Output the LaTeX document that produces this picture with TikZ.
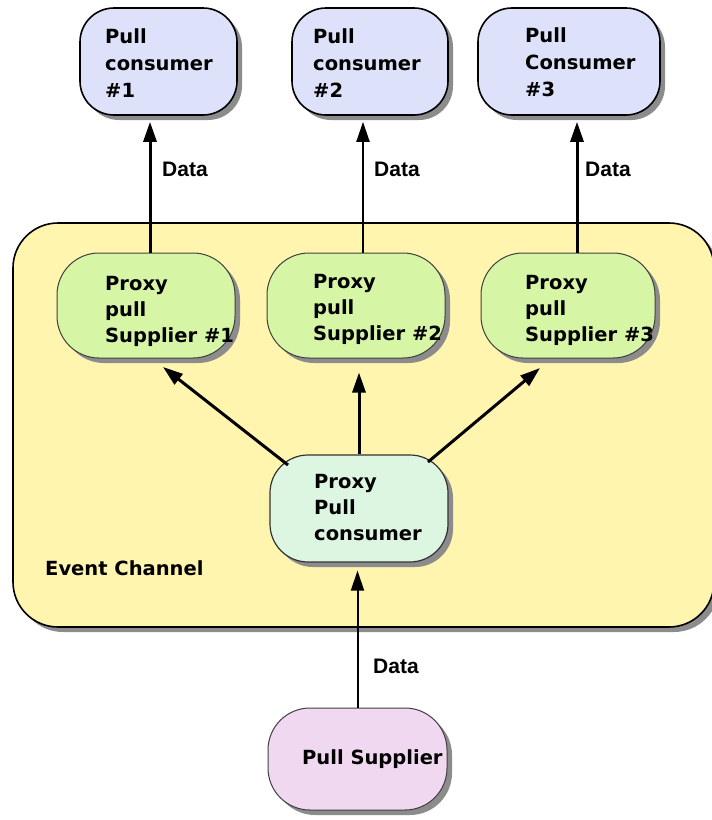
\documentclass[tikz,border=0pt]{standalone}
\usepackage{fontspec}
\setmainfont{DejaVu Sans}
\newfontfamily\datafont{Liberation Sans}
\usetikzlibrary{arrows.meta,shadows}
\definecolor{pcfill}{RGB}{221,225,250}
\definecolor{psfill}{RGB}{214,245,165}
\definecolor{ppcfill}{RGB}{220,246,226}
\definecolor{ecfill}{RGB}{255,245,175}
\definecolor{supfill}{RGB}{241,216,241}
\begin{document}
\begin{tikzpicture}[x=1pt,y=-1pt,
  shad/.style={drop shadow={shadow xshift=5pt,shadow yshift=-5pt,fill=black!45,opacity=1}},
  shapebox/.style={shad,draw,inner sep=0pt,minimum height=107pt},
  pcbox/.style={shapebox,fill=pcfill,line width=1.6pt,rounded corners=34pt},
  psbox/.style={shapebox,fill=psfill,draw=black!75,line width=1pt,rounded corners=42pt,minimum height=105pt},
  ppcbox/.style={shapebox,fill=ppcfill,draw=black!80,line width=1.2pt,rounded corners=38pt},
  supbox/.style={shapebox,fill=supfill,draw=black!75,line width=1pt,rounded corners=42pt,minimum height=102pt},
  ecbox/.style={shad,draw,fill=ecfill,line width=1.6pt,inner sep=0pt,rounded corners=45pt},
  txt/.style={anchor=base west,inner sep=0pt,align=left,font=\bfseries\fontsize{19.5}{27}\selectfont},
  txtb/.style={txt,font=\bfseries\fontsize{19.5}{26}\selectfont},
  datalbl/.style={anchor=base west,inner sep=0pt,font=\datafont\bfseries\fontsize{21}{24}\selectfont},
  arr/.style={-{Triangle[length=20pt,width=13pt]},line width=3pt},
  arrthin/.style={-{Triangle[length=20pt,width=13pt]},line width=2pt}]
\useasboundingbox (0,0) rectangle (712,820);
\fill[white] (0,0) rectangle (712,820);
% event channel
\node[ecbox,minimum width=701pt,minimum height=404pt] (ec) at (363.5,425) {};
\node[txt] (ect) at (45,575) {Event Channel};
% top consumers
\node[pcbox,minimum width=157pt] (pc1) at (158.5,61.5) {};
\node[pcbox,minimum width=156pt] (pc2) at (370,61.5) {};
\node[pcbox,minimum width=182pt] (pc3) at (569,61.5) {};
\node[txt] (pc1t) at (105,97) {Pull\\consumer\\\#1};
\node[txt] (pc2t) at (313,97) {Pull\\consumer\\\#2};
\node[txt] (pc3t) at (525,96) {Pull\\Consumer\\\#3};
% proxy suppliers
\node[psbox,minimum width=178pt] (ps1) at (146,305.5) {};
\node[psbox,minimum width=178pt] (ps2) at (356,305.5) {};
\node[psbox,minimum width=174pt] (ps3) at (568,305.5) {};
\node[txtb] (ps1t) at (105,342) {Proxy\\pull\\Supplier \#1};
\node[txtb] (ps2t) at (313,340) {Proxy\\pull\\Supplier \#2};
\node[txtb] (ps3t) at (525,341) {Proxy\\pull\\Supplier \#3};
% proxy pull consumer
\node[ppcbox,minimum width=178pt] (ppc) at (359,508.5) {};
\node[txtb] (ppct) at (314,540) {Proxy\\Pull\\consumer};
% pull supplier
\node[supbox,minimum width=179pt] (sup) at (357.5,759) {};
\node[txt] (supt) at (302,764) {Pull Supplier};
% connectors
\draw[arr,shorten >=6pt] ([xshift=4pt]ps1.north) -- ([xshift=4pt]ps1.north |- pc1.south);
\draw[arrthin,shorten >=6pt] ([xshift=7pt]ps2.north) -- ([xshift=7pt]ps2.north |- pc2.south);
\draw[arr,shorten >=6pt] ([xshift=9pt]ps3.north) -- ([xshift=9pt]ps3.north |- pc3.south);
\draw[arr,shorten >=14pt] (ppc.north) -- (ppc.north |- ps2.south);
\draw[arr] ([shift={(-71,-43.5)}]ppc.center) -- ([shift={(17,61.5)}]ps1.center);
\draw[arr] ([shift={(69,-46.5)}]ppc.center) -- ([shift={(-28,62.5)}]ps3.center);
\draw[arrthin,shorten >=8pt] (sup.north) -- (sup.north |- ppc.south);
% data labels
\node[datalbl] (d1) at (162,176) {Data};
\node[datalbl] (d2) at (374,176) {Data};
\node[datalbl] (d3) at (585,176) {Data};
\node[datalbl] (d4) at (373,673) {Data};
\end{tikzpicture}
\end{document}
